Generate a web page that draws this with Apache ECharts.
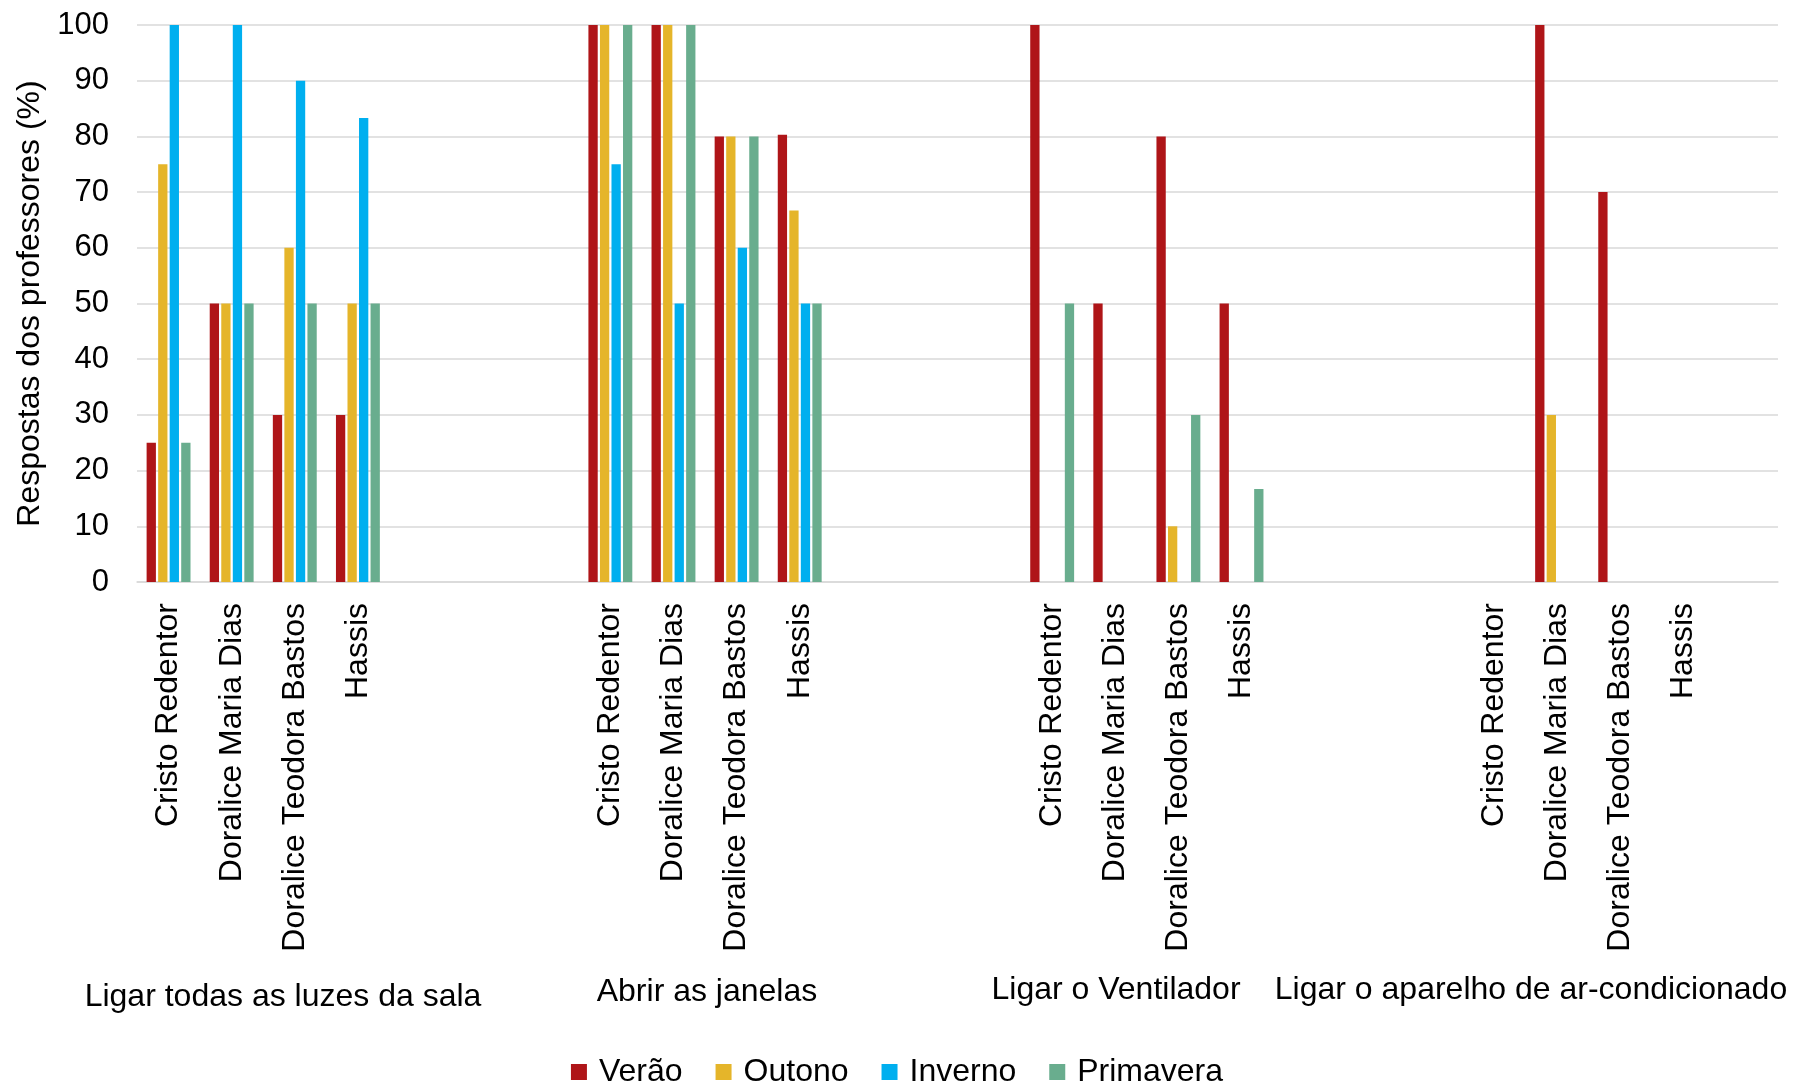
<!DOCTYPE html>
<html>
<head>
<meta charset="utf-8">
<script src="https://cdn.jsdelivr.net/npm/echarts@6/dist/echarts.min.js"></script>
<style>
  html, body { margin: 0; padding: 0; background: #fff; }
  #chart { width: 1794px; height: 1086px; }
</style>
</head>
<body>
<div id="chart"></div>
<script>
// Schools surveyed, repeated inside each action group
const schools = ['Cristo Redentor', 'Doralice Maria Dias', 'Doralice Teodora Bastos', 'Hassis'];
// Actions taken by teachers (group labels under the axis)
const actions = ['Ligar todas as luzes da sala', 'Abrir as janelas', 'Ligar o Ventilador', 'Ligar o aparelho de ar-condicionado'];
const seasons = ['Verão', 'Outono', 'Inverno', 'Primavera'];

// Share of teachers (%) per action x school, in action order, 4 schools each
const verao     = [25, 50, 30, 30,   100, 100, 80, 80.3,   100, 50, 80, 50,   0, 100, 70, 0];
const outono    = [75, 50, 60, 50,   100, 100, 80, 66.7,   0, 0, 10, 0,       0, 30, 0, 0];
const inverno   = [100, 100, 90, 83.3, 75, 50, 60, 50,    0, 0, 0, 0,        0, 0, 0, 0];
const primavera = [25, 50, 50, 50,   100, 100, 80, 50,    50, 0, 30, 16.7,   0, 0, 0, 0];

const yTicks = { min: 0, max: 100, interval: 10 };
const colors = ['#AF1518', '#E5B52A', '#00AFEF', '#69AD8E'];

// Three empty slots separate each action group, plus one trailing slot
const GAP = 3;
const categories = [];
const slotIndex = [];
actions.forEach((a, gi) => {
  schools.forEach((s, si) => {
    slotIndex.push(categories.length);
    categories.push(gi + '|' + s);
  });
  const pads = gi < actions.length - 1 ? GAP : 1;
  for (let k = 0; k < pads; k++) categories.push(gi + '|_' + k);
});

function toSlots(values) {
  const out = categories.map(() => null);
  values.forEach((v, i) => { out[slotIndex[i]] = v; });
  return out;
}
const seriesValues = [verao, outono, inverno, primavera];

const font = 'Liberation Sans, Arial, sans-serif';
const chart = echarts.init(document.getElementById('chart'), null, { renderer: 'canvas' });

const groupLabel = (text, x, y) => ({
  type: 'text', x, y,
  style: { text, font: '32px ' + font, fill: '#000', align: 'center', verticalAlign: 'middle' }
});

chart.setOption({
  animation: false,
  color: colors,
  textStyle: { fontFamily: font },
  grid: { left: 137, right: 16, top: 25, bottom: 504, containLabel: false },
  xAxis: {
    type: 'category',
    data: categories,
    axisLine: { show: true, lineStyle: { color: '#D9D9D9', width: 1.5 } },
    axisTick: { show: false },
    axisLabel: {
      interval: 0,
      rotate: 90,
      margin: 21,
      fontSize: 32,
      color: '#000',
      fontFamily: font,
      formatter: v => { const n = v.split('|')[1]; return n.startsWith('_') ? '' : n; }
    },
    splitLine: { show: false }
  },
  yAxis: {
    type: 'value',
    min: yTicks.min,
    max: yTicks.max,
    interval: yTicks.interval,
    name: 'Respostas dos professores (%)',
    nameLocation: 'middle',
    nameRotate: 90,
    nameGap: 87,
    nameTextStyle: { fontSize: 32, color: '#000', fontFamily: font },
    axisLine: { show: false },
    axisTick: { show: false },
    axisLabel: { fontSize: 31, color: '#000', margin: 28, fontFamily: font },
    splitLine: { lineStyle: { color: '#D9D9D9', width: 1.5 } }
  },
  legend: {
    data: seasons,
    left: 'center',
    top: 1051,
    itemWidth: 16,
    itemHeight: 16,
    itemGap: 33,
    icon: 'rect',
    textStyle: { fontSize: 32, color: '#000', fontFamily: font, padding: [0, 0, 0, 7] }
  },
  series: seasons.map((name, i) => ({
    name,
    type: 'bar',
    data: toSlots(seriesValues[i]),
    barWidth: 9.3,
    barGap: '24%',
    itemStyle: { color: colors[i] }
  })),
  graphic: [
    groupLabel(actions[0], 283, 997),
    groupLabel(actions[1], 707, 992),
    groupLabel(actions[2], 1116, 990),
    groupLabel(actions[3], 1531, 990)
  ]
});
</script>
</body>
</html>
